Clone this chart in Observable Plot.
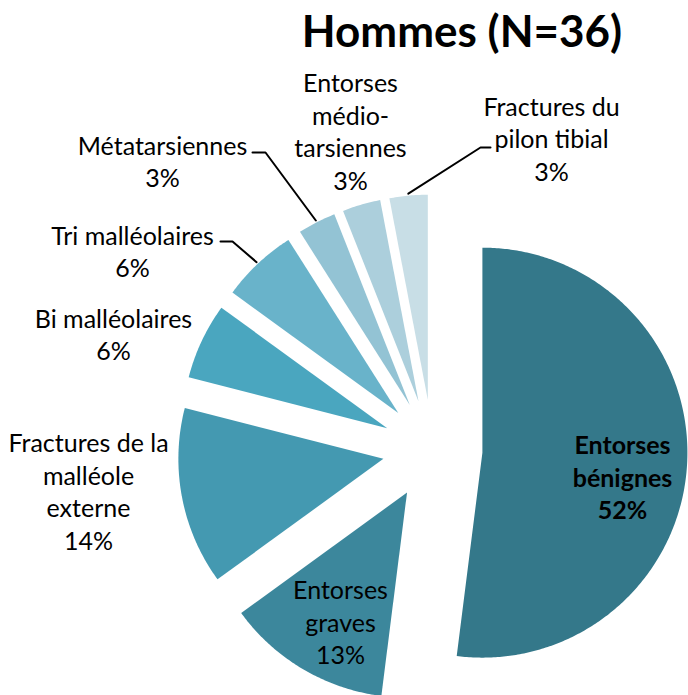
<!DOCTYPE html>
<html>
<head>
<meta charset="utf-8">
<script src="https://cdn.jsdelivr.net/npm/d3@7"></script>
<script src="https://cdn.jsdelivr.net/npm/@observablehq/plot@0.6"></script>
<style>
  html, body { margin: 0; padding: 0; background: #fff; }
  #wrap { position: relative; width: 688px; height: 695px; }
  #title { position: absolute; left: 462px; top: 8px; transform: translateX(-50%);
           font: bold 44px Lato, "Open Sans", sans-serif; line-height: 1; white-space: nowrap; color: #000; }
  #chart { position: absolute; left: 0; top: 0; }
</style>
</head>
<body>
<div id="wrap">
  <div id="chart"></div>
  <div id="title">Hommes (N=36)</div>
</div>
<script>
// ---- data ----
const categories = [
  "Entorses bénignes",
  "Entorses graves",
  "Fractures de la malléole externe",
  "Bi malléolaires",
  "Tri malléolaires",
  "Métatarsiennes",
  "Entorses médio-tarsiennes",
  "Fractures du pilon tibial"
];
const labelTexts = [
  "Entorses\nbénignes",
  "Entorses\ngraves",
  "Fractures de la\nmalléole\nexterne",
  "Bi malléolaires",
  "Tri malléolaires",
  "Métatarsiennes",
  "Entorses\nmédio-\ntarsiennes",
  "Fractures du\npilon tibial"
];
const percents = [52, 13, 14, 6, 6, 3, 3, 3];
const colors = ["#34788a", "#3c879c", "#4499b1", "#4aa6bf", "#69b3ca", "#93c3d4", "#accfdc", "#c8dee6"];

// ---- layout (pixels) ----
const W = 688, H = 695;
const cx = 432, cy = 449, R = 205, explode = 50;
const labelPos = [[622,476],[340,621],[88,490],[113,333],[132,250],[162,160],[350,130],[551,137.5]];
const leaderElbows = {5: [[252,152],[265,152]], 4: [[220,241],[232,241]], 7: [[490,147],[480,147]]};

// ---- geometry from values ----
const arcs = d3.pie().sort(null).value(d => d).startAngle(0).endAngle(2 * Math.PI)(percents);
const slicePts = [];
const leaderPts = [];
arcs.forEach((a, i) => {
  const mid = (a.startAngle + a.endAngle) / 2;
  const vx = cx + explode * Math.sin(mid), vy = cy - explode * Math.cos(mid);
  const name = categories[i];
  slicePts.push({name, x: vx, y: vy});
  const n = Math.max(2, Math.ceil((a.endAngle - a.startAngle) / 0.01));
  for (let k = 0; k <= n; k++) {
    const t = a.startAngle + (a.endAngle - a.startAngle) * k / n;
    slicePts.push({name, x: vx + R * Math.sin(t), y: vy - R * Math.cos(t)});
  }
  slicePts.push({name, x: vx, y: vy});
  if (leaderElbows[i]) {
    leaderElbows[i].forEach(([x, y]) => leaderPts.push({name, x, y}));
    leaderPts.push({name, x: vx + (R + 2) * Math.sin(mid), y: vy - (R + 2) * Math.cos(mid)});
  }
});
const labels = categories.map((c, i) => ({
  name: c, text: labelTexts[i] + "\n" + percents[i] + "%",
  x: labelPos[i][0], y: labelPos[i][1], bold: i === 0
}));

const font = "Lato, 'Open Sans', sans-serif";
const fs = 25;
const chart = Plot.plot({
  width: W, height: H,
  margin: 0,
  x: {domain: [0, W], range: [0, W], axis: null},
  y: {domain: [0, H], range: [0, H], axis: null},
  color: {domain: categories, range: colors},
  marks: [
    Plot.line(slicePts, {x: "x", y: "y", z: "name", fill: "name", stroke: null, curve: "linear"}),
    Plot.line(leaderPts, {x: "x", y: "y", z: "name", stroke: "#000", strokeWidth: 2}),
    Plot.text(labels.filter(d => !d.bold), {x: "x", y: "y", text: "text", fontSize: fs, fontFamily: font, lineHeight: 32.5 / fs, fill: "#000", textAnchor: "middle"}),
    Plot.text(labels.filter(d => d.bold), {x: "x", y: "y", text: "text", fontSize: fs, fontFamily: font, fontWeight: "bold", lineHeight: 32.5 / fs, fill: "#000", textAnchor: "middle"})
  ]
});
document.getElementById("chart").appendChild(chart);
</script>
</body>
</html>
